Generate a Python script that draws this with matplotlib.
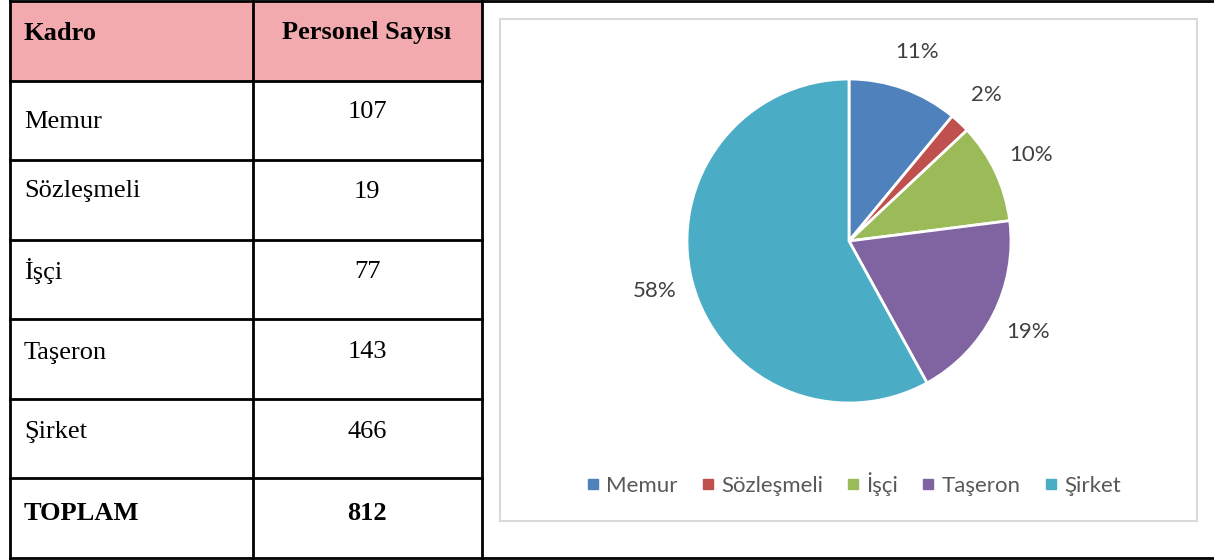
import matplotlib.pyplot as plt
from matplotlib.patches import Rectangle
from matplotlib.lines import Line2D

plt.rcParams["font.family"] = ["Lato", "DejaVu Sans"]

# table data
kadro = ["Memur", "Sözleşmeli", "İşçi", "Taşeron", "Şirket"]
personel = [107, 19, 77, 143, 466]
toplam = 812
header = ["Kadro", "Personel Sayısı"]

# pie data (percent shown on the chart)
pie_pct = [11, 2, 10, 19, 58]
colors = ["#4F81BD", "#C0504D", "#9BBB59", "#8064A2", "#4BACC6"]

W, H = 1214, 560
fig = plt.figure(figsize=(W / 100, H / 100), dpi=100)

# background axes in pixel coordinates
bg = fig.add_axes([0, 0, 1, 1])
bg.set_xlim(0, W)
bg.set_ylim(H, 0)
bg.axis("off")

# table
x_left, x_mid, x_right = 10, 253, 482
row_h = 79.5
y_top = 1
n_rows = len(kadro) + 2
bg.add_patch(Rectangle((x_left, y_top), x_right - x_left, row_h, facecolor="#F2AAAE", edgecolor="none"))
lw = 2
for i in range(n_rows + 1):
    y = y_top + i * row_h
    bg.plot([x_left, x_right], [y, y], color="black", lw=lw, solid_capstyle="projecting")
y_bot = y_top + n_rows * row_h
for x in (x_left, x_mid, x_right):
    bg.plot([x, x], [y_top, y_bot], color="black", lw=lw)

serif = "Liberation Serif"
fs = 19
bg.text(24, 33, header[0], family=serif, fontsize=fs, fontweight="bold", va="center", ha="left")
bg.text(367, 33, header[1], family=serif, fontsize=fs, fontweight="bold", va="center", ha="center")
label_y = [122, 191, 271, 353, 432]
num_y = [112, 192, 272, 352, 432]
for name, val, ly, ny in zip(kadro, personel, label_y, num_y):
    bg.text(24, ly, name, family=serif, fontsize=fs, va="center", ha="left")
    bg.text(367, ny, str(val), family=serif, fontsize=fs, va="center", ha="center")
bg.text(24, 514, "TOPLAM", family=serif, fontsize=fs, fontweight="bold", va="center", ha="left")
bg.text(367, 514, str(toplam), family=serif, fontsize=fs, fontweight="bold", va="center", ha="center")

# right panel frame
bg.plot([x_right, W], [y_top, y_top], color="black", lw=lw)
bg.plot([x_right, W], [y_bot, y_bot], color="black", lw=lw)
bg.add_patch(Rectangle((500, 19), 697, 502, facecolor="white", edgecolor="#D9D9D9", lw=1.5))

# pie
cx, cy, R = 849, 241, 162
half = 1.5 * R
ax = fig.add_axes([(cx - half) / W, (H - cy - half) / H, 2 * half / W, 2 * half / H])
wedges, texts, autotexts = ax.pie(
    pie_pct,
    colors=colors,
    startangle=90,
    counterclock=False,
    autopct="%d%%",
    pctdistance=1.24,
    wedgeprops=dict(edgecolor="white", linewidth=2),
    textprops=dict(color="#404040", fontsize=16),
)
ax.set_xlim(-1.5, 1.5)
ax.set_ylim(-1.5, 1.5)
ax.set_aspect("equal")

handles = [Line2D([], [], marker="s", linestyle="none", markersize=7,
                  markerfacecolor=c, markeredgecolor=c) for c in colors]
fig.legend(handles, kadro, loc="center", bbox_to_anchor=(853 / W, 1 - 484 / H),
           ncol=5, frameon=False, fontsize=16, handletextpad=0.25, columnspacing=1.0,
           handlelength=0.7, labelcolor="#595959")

fig.savefig("out.png", dpi=100)
